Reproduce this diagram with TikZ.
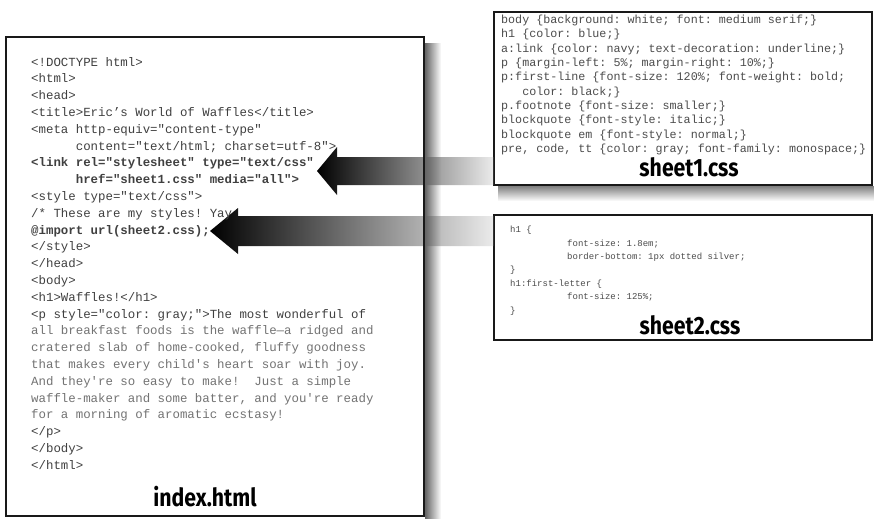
\documentclass[tikz,border=0pt]{standalone}
\usepackage{fontspec}
\setmonofont{Liberation Mono}
\newfontfamily\lblfont{Fira Sans}
\usetikzlibrary{fadings,calc}
\tikzfading[name=faderight, left color=transparent!0, right color=transparent!100]
\tikzfading[name=fadedown, top color=transparent!0, bottom color=transparent!100]
\begin{document}
\begin{tikzpicture}[x=1pt,y=-1pt,
  boxL/.style={draw=black!90, line width=2.4pt, inner sep=0pt},
  boxR/.style={draw=black!90, line width=1.8pt, inner sep=0pt},
  arrowshade/.style={left color=black, right color=black!8},
  codeL/.style={font=\ttfamily\fontsize{12.4}{16.8}\selectfont, align=left, inner sep=0pt, anchor=north west, text=black!75},
  codeA/.style={font=\ttfamily\fontsize{11.7}{14.3}\selectfont, align=left, inner sep=0pt, anchor=north west, text=black!70},
  codeB/.style={font=\ttfamily\fontsize{9}{13.4}\selectfont, align=left, inner sep=0pt, anchor=north west, text=black!70},
  lbl/.style={font=\lblfont\bfseries\fontsize{25}{25}\selectfont, inner sep=0pt, anchor=center, text=black}
]
\useasboundingbox (0,0) rectangle (874,519);
\fill[white] (0,0) rectangle (874,519);

% boxes (border only)
\node[boxL, minimum width=418pt, minimum height=479pt] (idx) at (215,276.5) {};
\node[boxR, minimum width=378pt, minimum height=173pt] (box1) at (683,98.5) {};
\node[boxR, minimum width=378pt, minimum height=125pt] (box2) at (683,277.5) {};

% arrows
\coordinate (t1) at (317,171);
\path (t1) ++(20,-24) coordinate (a1) ++(0,10) coordinate (b1);
\path (t1) ++(20,24) coordinate (c1) ++(0,-10) coordinate (d1);
\shade[arrowshade] (t1) -- (a1) -- (b1) -- (b1 -| box1.west) -- (d1 -| box1.west) -- (d1) -- (c1) -- cycle;

\coordinate (t2) at (210,231);
\path (t2) ++(28,-23) coordinate (a2) ++(0,8) coordinate (b2);
\path (t2) ++(28,23) coordinate (c2) ++(0,-8) coordinate (d2);
\shade[arrowshade] (t2) -- (a2) -- (b2) -- (b2 -| box2.west) -- (d2 -| box2.west) -- (d2) -- (c2) -- cycle;

% borders again on top of arrows
\node[boxL, minimum width=418pt, minimum height=479pt] (idxb) at (idx) {};

% shadows
\fill[black!60, path fading=faderight] (425.2,43) rectangle (441,519);
\fill[black!50, path fading=fadedown] (498,186) rectangle (874,201);

% texts
\node[codeL] (idxcode) at (31,57) {<!DOCTYPE html>\\
<html>\\
<head>\\
<title>Eric’s World of Waffles</title>\\
<meta http-equiv="content-type"\\
\hspace*{3.6em}content="text/html; charset=utf-8">\\
\textbf{<link rel="stylesheet" type="text/css"}\\
\hspace*{3.6em}\textbf{href="sheet1.css" media="all">}\\
<style type="text/css">\\
/* These are my styles! Yay\\
\textbf{@import url(sheet2.css);}\\
</style>\\
</head>\\
<body>\\
<h1>Waffles!</h1>\\
<p style="color: gray;">The most wonderful of\\
\textcolor{black!55}{all breakfast foods is the waffle—a ridged and}\\
\textcolor{black!55}{cratered slab of home-cooked, fluffy goodness}\\
\textcolor{black!55}{that makes every child's heart soar with joy.}\\
\textcolor{black!55}{And they're so easy to make!~ Just a simple}\\
\textcolor{black!55}{waffle-maker and some batter, and you're ready}\\
\textcolor{black!55}{for a morning of aromatic ecstasy!}\\
</p>\\
</body>\\
</html>};

\node[codeA] (s1code) at (501,15) {body \{background: white; font: medium serif;\}\\
h1 \{color: blue;\}\\
a:link \{color: navy; text-decoration: underline;\}\\
p \{margin-left: 5\%; margin-right: 10\%;\}\\
p:first-line \{font-size: 120\%; font-weight: bold;\\
\hspace*{1.8em}color: black;\}\\
p.footnote \{font-size: smaller;\}\\
blockquote \{font-style: italic;\}\\
blockquote em \{font-style: normal;\}\\
pre, code, tt \{color: gray; font-family: monospace;\}};

\node[codeB] (s2code) at (510,226) {h1 \{\\
\hspace*{57pt}font-size: 1.8em;\\
\hspace*{57pt}border-bottom: 1px dotted silver;\\
\}\\
h1:first-letter \{\\
\hspace*{57pt}font-size: 125\%;\\
\}};

\node[lbl] (idxlbl) at (205,497) {\scalebox{0.85}[1]{index.html}};
\node[lbl] (s1lbl) at (689,167) {\scalebox{0.85}[1]{sheet1.css}};
\node[lbl] (s2lbl) at (690,325) {\scalebox{0.85}[1]{sheet2.css}};
\end{tikzpicture}
\end{document}
